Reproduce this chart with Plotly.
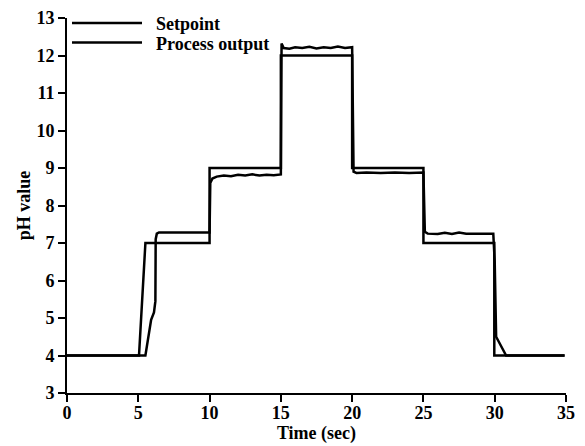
import plotly.graph_objects as go

# Setpoint trajectory
sp_t = [0, 5.05, 5.5, 10.0, 10.0, 15.0, 15.0, 20.0, 20.0, 25.0, 25.0, 29.97, 29.97, 34.9]
sp_v = [4, 4, 7, 7, 9, 9, 12, 12, 9, 9, 7, 7, 4, 4]

# Process output
po_t = [0, 5.5, 5.9, 6.1, 6.2, 6.22, 6.3, 6.45, 10.0, 10.05, 10.2, 10.5, 11.0, 11.5, 12.0, 12.5,
        13.0, 13.5, 14.0, 14.5, 15.0, 15.05, 15.2, 15.6, 16.0, 16.5, 17.0, 17.5, 18.0, 18.5,
        19.0, 19.5, 20.0, 20.1, 20.3, 21.0, 22.0, 23.0, 24.0, 25.0, 25.1, 25.3, 26.0, 26.5,
        27.0, 27.5, 28.0, 29.0, 29.9, 30.0, 30.1, 30.8, 34.9]
po_v = [4, 4, 4.95, 5.15, 5.45, 7.1, 7.25, 7.28, 7.28, 8.6, 8.72, 8.77, 8.8, 8.78, 8.82, 8.8,
        8.83, 8.8, 8.82, 8.81, 8.83, 12.32, 12.2, 12.18, 12.22, 12.2, 12.23, 12.19, 12.22, 12.2,
        12.24, 12.2, 12.22, 8.9, 8.87, 8.88, 8.87, 8.88, 8.87, 8.88, 7.3, 7.25, 7.24, 7.27,
        7.24, 7.28, 7.25, 7.26, 7.25, 6.5, 4.5, 4.0, 4.0]

x_ticks = [0, 5, 10, 15, 20, 25, 30, 35]
y_ticks = [3, 4, 5, 6, 7, 8, 9, 10, 11, 12, 13]

font_family = "Liberation Serif"
txt = dict(family=font_family, size=18, color="black", weight="bold")

fig = go.Figure()
fig.add_trace(go.Scatter(x=sp_t, y=sp_v, mode="lines", name="\u00a0\u00a0Setpoint",
                         legend="legend", line=dict(color="black", width=2.5)))
fig.add_trace(go.Scatter(x=po_t, y=po_v, mode="lines", name="\u00a0\u00a0Process output",
                         legend="legend2", line=dict(color="black", width=2.5)))

axis_common = dict(showgrid=False, zeroline=False, showline=True, linecolor="black",
                   linewidth=2, ticks="outside", tickcolor="black", tickwidth=2, ticklen=7,
                   tickfont=txt, automargin=False, ticklabeloverflow="allow")

leg_common = dict(x=0.0, xanchor="left", yanchor="top", itemwidth=70,
                  bgcolor="rgba(0,0,0,0)", font=txt)

fig.update_layout(
    width=585, height=446,
    margin=dict(l=59, r=27, t=10, b=61, autoexpand=False),
    paper_bgcolor="white", plot_bgcolor="white",
    showlegend=True,
    legend=dict(y=1.035, **leg_common),
    legend2=dict(y=0.983, **leg_common),
    xaxis=dict(range=[0, 35], tickvals=x_ticks, ticklabelstandoff=-5,
               title=dict(text="Time (sec)", standoff=2, font=txt),
               **axis_common),
    yaxis=dict(range=[3, 13], tickvals=y_ticks,
               title=dict(text="pH value", standoff=1, font=txt),
               **axis_common),
)

fig.write_html("out.html")
